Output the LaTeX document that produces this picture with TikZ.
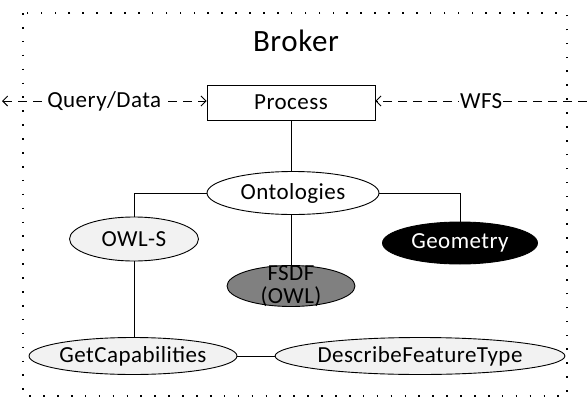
\documentclass[tikz,border=0pt]{standalone}
\usepackage{fontspec}
\setmainfont[LetterSpace=2]{Carlito}
\usetikzlibrary{shapes.geometric,arrows.meta}
\definecolor{lightfill}{HTML}{F2F2F2}
\definecolor{midfill}{HTML}{808080}
\tikzset{
  txt/.style={font=\fontsize{23}{23}\selectfont},
  oval/.style={ellipse, draw=black, line width=0.9pt, inner sep=0pt, txt},
  conn/.style={line width=0.9pt},
  dashconn/.style={line width=0.9pt, dash pattern=on 9pt off 6pt, arrows={-Straight Barb[length=5pt,width=10pt]}},
  lbl/.style={fill=white, inner sep=1pt, txt}
}
\begin{document}
\begin{tikzpicture}[x=1pt,y=-1pt]
\useasboundingbox (0,0) rectangle (587,402);
% broker frame
\draw[line width=1.6pt, dash pattern=on 1.6pt off 12.3pt] (23,13) rectangle (567,396);
\node[font=\fontsize{31}{31}\selectfont] (broker) at (296,41) {Broker};
% process
\node[draw, line width=0.9pt, minimum width=168pt, minimum height=35pt, inner sep=0pt, txt] (process) at (291,102.5) {Process};
\coordinate (qleft) at (2,101);
\coordinate (wright) at (587,101);
\draw[dashconn, arrows={Straight Barb[length=5pt,width=10pt]-Straight Barb[length=5pt,width=10pt]}] (qleft) -- (process.west |- qleft) node[lbl, midway] (qd) {Query/Data};
\draw[dashconn] (wright) -- (process.east |- wright) node[lbl, midway] (wfs) {WFS};
% ontologies
\node[oval, fill=white, minimum width=172pt, minimum height=43pt] (onto) at (293,193) {Ontologies};
\node[oval, fill=lightfill, minimum width=129pt, minimum height=44pt] (owls) at (134,239) {OWL-S};
\node[oval, fill=black, text=white, minimum width=155pt, minimum height=42pt] (geom) at (460,243) {Geometry};
\node[oval, fill=midfill, minimum width=128pt, minimum height=41pt] (fsdf) at (291,286) {};
\node[txt, align=center, inner sep=0pt] (fsdftext) at (291,286) {FSDF\\(OWL)};
\node[oval, fill=lightfill, minimum width=199pt, minimum height=37pt] (getcap) at (133,356) {GetCapabilities};
\node[oval, fill=lightfill, minimum width=273pt, minimum height=37pt] (dft) at (420,356) {DescribeFeatureType};
% connectors
\draw[conn] (process.south -| fsdf) -- (onto.north -| fsdf);
\draw[conn] (onto.west) -| (owls.north);
\draw[conn] (onto.east) -| (geom.north);
\draw[conn] (onto.south -| fsdf) -- (fsdf.north);
\draw[conn] (owls.south) -- (getcap.north -| owls);
\draw[conn] (getcap.east) -- (dft.west);
\end{tikzpicture}
\end{document}
